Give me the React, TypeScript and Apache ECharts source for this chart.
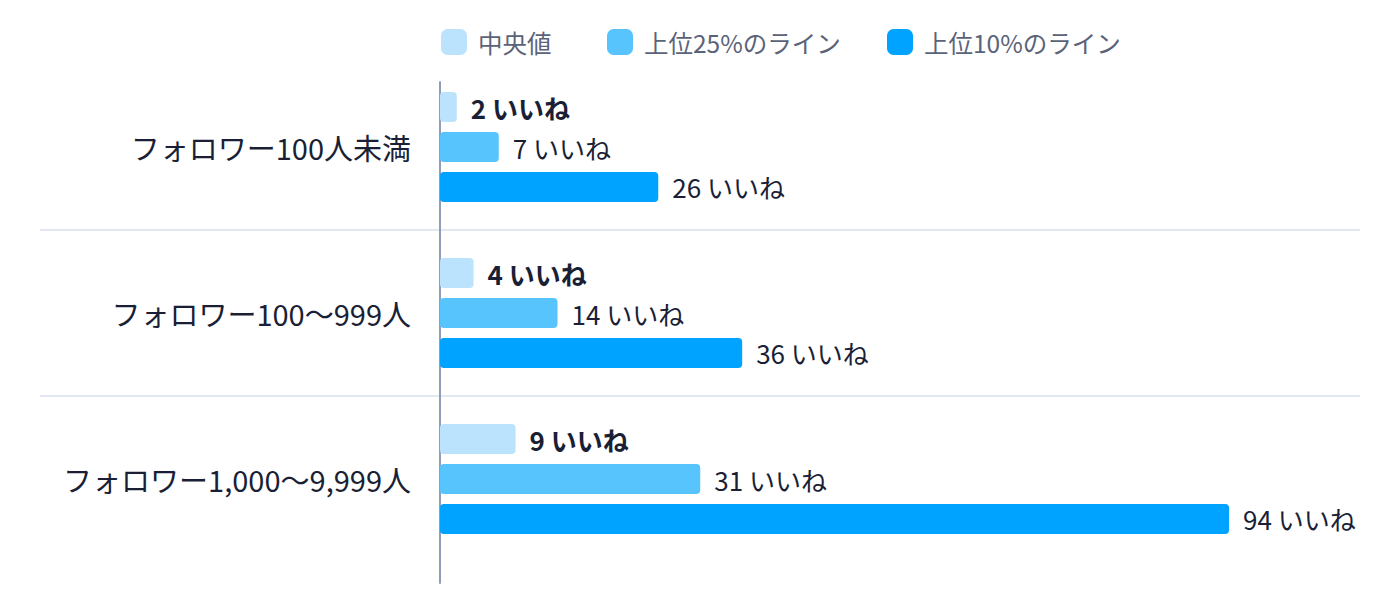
import React, { useEffect, useRef } from "react";
import * as echarts from "echarts";

const categories = ["フォロワー100人未満", "フォロワー100〜999人", "フォロワー1,000〜9,999人"];
const seriesNames = ["中央値", "上位25%のライン", "上位10%のライン"];
const median = [2, 4, 9];
const top25 = [7, 14, 31];
const top10 = [26, 36, 94];
const colors = ["#bbe3fd", "#58c4fe", "#00a3ff"];

const FONT = "'Noto Sans CJK JP', 'Noto Sans', sans-serif";
const X_MAX = 109.6;
const legendLefts = [436, 602, 882];

export default function App() {
  const ref = useRef<HTMLDivElement>(null);
  useEffect(() => {
    document.body.style.margin = "0";
    if (!ref.current) return;
    const chart = echarts.init(ref.current, undefined, { renderer: "svg" });
    const values = [median, top25, top10];
    const option: any = {
      animation: false,
      backgroundColor: "#ffffff",
      textStyle: { fontFamily: FONT },
      legend: seriesNames.map((name, i) => ({
        data: [name],
        left: legendLefts[i],
        top: 24,
        icon: "roundRect",
        itemWidth: 26,
        itemHeight: 26,
        textStyle: {
          fontFamily: FONT,
          fontSize: 24.5,
          color: "#5b6378",
          padding: [0, 0, 0, 6],
        },
      })),
      grid: [
        // bars
        { left: 440, right: 40, top: 64, height: 498, outerBoundsMode: "none", containLabel: false },
        // vertical axis line
        { left: 440, right: 40, top: 82, height: 501, outerBoundsMode: "none", containLabel: false },
        // full-width separators
        { left: 40, right: 40, top: 64, height: 498, outerBoundsMode: "none", containLabel: false },
      ],
      xAxis: [
        { type: "value", gridIndex: 0, min: 0, max: X_MAX, show: false },
        { type: "value", gridIndex: 1, min: 0, max: X_MAX, show: false },
        { type: "value", gridIndex: 2, min: 0, max: X_MAX, show: false },
      ],
      yAxis: [
        {
          type: "category",
          gridIndex: 0,
          data: categories,
          inverse: true,
          axisLine: { show: false },
          axisTick: { show: false },
          splitLine: { show: false },
          axisLabel: {
            fontFamily: FONT,
            fontSize: 29,
            color: "#1a1f36",
            margin: 29,
          },
        },
        {
          type: "category",
          gridIndex: 1,
          data: categories,
          inverse: true,
          axisLine: { show: true, lineStyle: { color: "#8f9dbb", width: 2 } },
          axisTick: { show: false },
          axisLabel: { show: false },
          splitLine: { show: false },
        },
        {
          type: "category",
          gridIndex: 2,
          data: categories,
          inverse: true,
          axisLine: { show: false },
          axisTick: { show: false },
          axisLabel: { show: false },
          splitLine: {
            show: true,
            showMinLine: false,
            showMaxLine: false,
            lineStyle: { color: "#e3e7f1", width: 2 },
          },
        },
      ],
      series: seriesNames.map((name, i) => ({
        name,
        type: "bar",
        xAxisIndex: 0,
        yAxisIndex: 0,
        data: values[i],
        barWidth: 30,
        barGap: "33.3%",
        itemStyle: { color: colors[i], borderRadius: 4 },
        label: {
          show: true,
          position: "right",
          distance: 14,
          formatter: "{c} いいね",
          fontFamily: FONT,
          fontSize: 26,
          color: "#1a1f36",
          fontWeight: i === 0 ? "bold" : "normal",
        },
      })),
    };
    chart.setOption(option);
    return () => chart.dispose();
  }, []);
  return <div ref={ref} style={{ width: 1400, height: 614 }} />;
}
